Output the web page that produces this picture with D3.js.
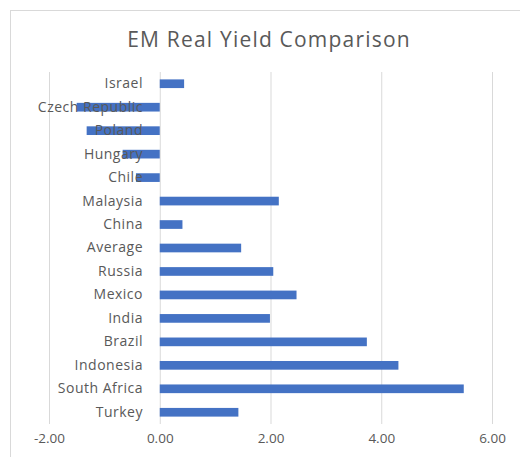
<!DOCTYPE html>
<html><head><meta charset="utf-8">
<script src="https://cdn.jsdelivr.net/npm/d3@7"></script>
<style>html,body{margin:0;padding:0;background:#fff;}svg{display:block;}</style>
</head><body>
<svg id="c" width="520" height="457"></svg>
<script>
const categories = ["Israel","Czech Republic","Poland","Hungary","Chile","Malaysia","China","Average","Russia","Mexico","India","Brazil","Indonesia","South Africa","Turkey"];
const values = [0.44,-1.50,-1.32,-0.67,-0.43,2.15,0.41,1.47,2.05,2.47,1.99,3.74,4.31,5.49,1.42];
const tickValues = [-2,0,2,4,6];
const title = "EM Real Yield Comparison";

const svg = d3.select("#c");
const font = "'Open Sans', 'Liberation Sans', sans-serif";
const grey = "#595959";

svg.append("rect").attr("x",10.5).attr("y",10.5).attr("width",520).attr("height",460)
  .attr("fill","#fff").attr("stroke","#d9d9d9").attr("stroke-width",1);

const x = d3.scaleLinear().domain([-2,6]).range([49,492]);
const y = d3.scaleBand().domain(categories).range([72,424]).paddingInner(0.63).paddingOuter(0.315);

svg.append("text").attr("x",269).attr("y",47).attr("text-anchor","middle")
  .attr("font-family",font).attr("font-size",21).attr("letter-spacing",1.2).attr("fill",grey).text(title);

// gridlines
const gx = svg.append("g").attr("transform","translate(0,424)")
  .call(d3.axisBottom(x).tickValues(tickValues).tickSize(-352).tickFormat(d=>d.toFixed(2)));
gx.select(".domain").remove();
gx.selectAll(".tick line").attr("stroke","#d9d9d9").attr("stroke-width",1);
gx.selectAll(".tick text").attr("font-family",font).attr("font-size",13.5).attr("fill",grey).attr("dy","1.2em");

// bars
svg.append("g").selectAll("rect").data(values).join("rect")
  .attr("x",d=>x(Math.min(0,d)))
  .attr("width",d=>Math.abs(x(d)-x(0)))
  .attr("y",(d,i)=>y(categories[i]))
  .attr("height",y.bandwidth())
  .attr("fill","#4472C4");

// category labels
const gy = svg.append("g").attr("transform","translate(151,0)")
  .call(d3.axisLeft(y).tickSize(0).tickPadding(8));
gy.select(".domain").remove();
gy.selectAll(".tick text").attr("font-family",font).attr("font-size",14).attr("letter-spacing",0.5).attr("fill",grey);
</script>
</body></html>
